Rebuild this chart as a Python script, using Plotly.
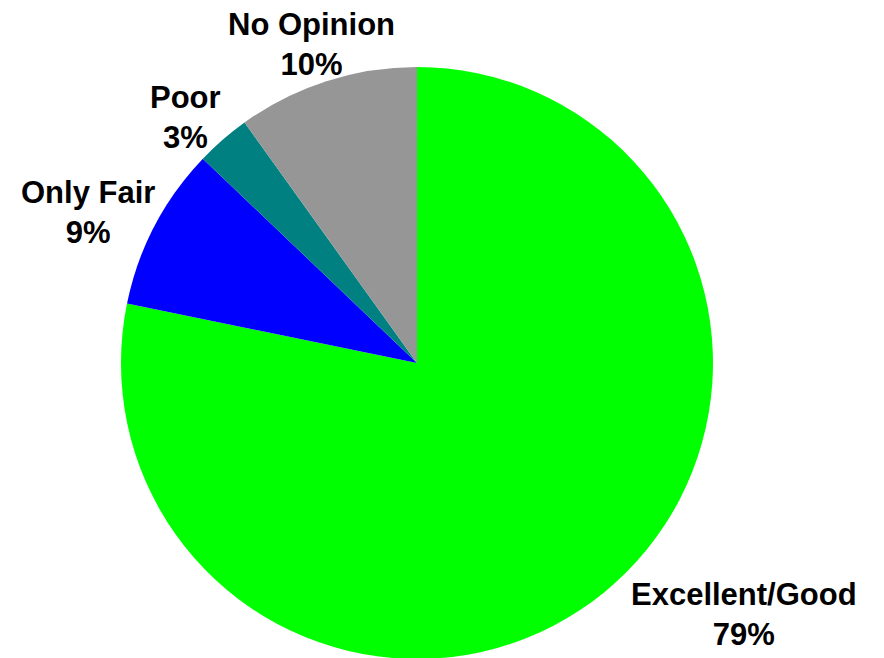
import plotly.graph_objects as go

categories = ["Excellent/Good", "Only Fair", "Poor", "No Opinion"]
values = [79, 9, 3, 10]
colors = ["#00FF00", "#0000FF", "#008080", "#969696"]

# desired on-screen label centres in pixels (x, y from top)
label_pos = [(744, 614), (88, 213), (185, 117), (311, 45)]

W, H = 884, 658
OFF = 8  # page body margin offset

fig = go.Figure(go.Pie(
    labels=categories,
    values=values,
    sort=False,
    direction="clockwise",
    rotation=0,
    marker=dict(colors=colors, line=dict(width=0)),
    textinfo="none",
    hoverinfo="label+value",
    showlegend=False,
    domain=dict(x=[0.1278, 0.7975], y=[0.0106, 0.9103]),
))

annotations = []
for cat, v, (px, py) in zip(categories, values, label_pos):
    annotations.append(dict(
        text=f"<b>{cat}<br>{v}%</b>",
        x=(px - OFF) / W, y=1 - (py - OFF) / H, xref="paper", yref="paper",
        xanchor="center", yanchor="middle", showarrow=False,
        font=dict(family="Liberation Sans, Arial, sans-serif", size=31, color="black"),
        align="center",
    ))

fig.update_layout(
    width=W, height=H,
    margin=dict(l=0, r=0, t=0, b=0),
    paper_bgcolor="white", plot_bgcolor="white",
    annotations=annotations,
)

fig.write_html("out.html")
